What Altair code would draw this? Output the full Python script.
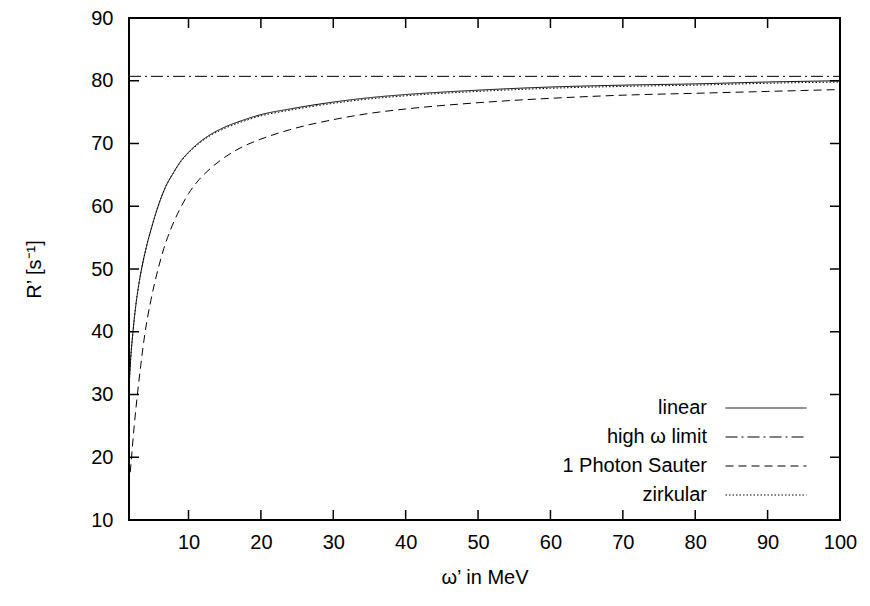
import altair as alt
import pandas as pd

# ---- data ----
X_MIN, X_MAX = 1.78, 100
Y_MIN, Y_MAX = 10, 90
x_ticks = [10, 20, 30, 40, 50, 60, 70, 80, 90, 100]
y_ticks = [10, 20, 30, 40, 50, 60, 70, 80, 90]

series_names = ["linear", "high ω limit", "1 Photon Sauter", "zirkular"]

lin_x = [1.78, 2.0, 2.33, 2.7, 3.1, 3.6, 4.2, 4.9, 5.8, 6.8, 7.9, 9.0, 10, 11.3, 13, 15, 17.5, 20, 24, 30, 35, 40, 50, 60, 70, 80, 90, 100]
lin_y = [31, 35.5, 40, 44, 47.3, 50.5, 53.6, 56.6, 60.0, 63.0, 65.3, 67.3, 68.6, 70.0, 71.4, 72.6, 73.7, 74.6, 75.5, 76.6, 77.3, 77.8, 78.5, 79.0, 79.3, 79.5, 79.8, 80.0]

lim_x = [1.78, 100]
lim_y = [80.7, 80.7]

sau_x = [1.95, 2.2, 2.5, 2.94, 3.4, 3.95, 4.8, 5.8, 6.6, 7.5, 8.7, 10, 11.5, 13, 15, 17.5, 20, 24, 30, 35, 40, 50, 60, 70, 80, 90, 100]
sau_y = [17.6, 21.0, 25.0, 30.0, 34.6, 39.5, 45.0, 50.0, 53.3, 56.2, 59.3, 62.0, 64.3, 66.0, 67.8, 69.5, 70.7, 72.2, 73.8, 74.8, 75.5, 76.5, 77.2, 77.7, 78.0, 78.3, 78.6]

zir_x = lin_x
zir_y = [31, 35.5, 40, 44, 47.3, 50.5, 53.6, 56.6, 60.0, 63.0, 65.3, 67.2, 68.5, 69.85, 71.25, 72.4, 73.5, 74.4, 75.3, 76.4, 77.1, 77.6, 78.3, 78.8, 79.1, 79.3, 79.6, 79.8]

rows = []
for name, xs_, ys_ in [
    ("linear", lin_x, lin_y),
    ("high ω limit", lim_x, lim_y),
    ("1 Photon Sauter", sau_x, sau_y),
    ("zirkular", zir_x, zir_y),
]:
    for xv, yv in zip(xs_, ys_):
        rows.append({"series": name, "x": xv, "y": yv})
df = pd.DataFrame(rows)
df_xt = pd.DataFrame({"x": x_ticks})
df_yt = pd.DataFrame({"y": y_ticks})

# ---- styling ----
W, H = 711, 502
FONT = "Liberation Sans"
TICK = 10
dash_range = [[1, 0], [12, 4, 2, 4], [8, 5], [1.5, 2]]

xscale = alt.Scale(domain=[X_MIN, X_MAX], nice=False, zero=False)
yscale = alt.Scale(domain=[Y_MIN, Y_MAX], nice=False, zero=False)

xaxis = alt.Axis(values=x_ticks, title="ω’ in MeV", grid=False, domain=False,
                 tickSize=0, labelPadding=12, titlePadding=15, labelFlush=False)
yaxis = alt.Axis(values=y_ticks, title="R’ [s⁻¹]", grid=False, domain=False,
                 tickSize=0, labelPadding=16, titlePadding=46, labelFlush=False)

X = alt.X("x:Q", scale=xscale, axis=xaxis)
Y = alt.Y("y:Q", scale=yscale, axis=yaxis)

lines = alt.Chart(df).mark_line(color="black", strokeWidth=1, clip=True,
                                interpolate="monotone").encode(
    x=X,
    y=Y,
    strokeDash=alt.StrokeDash(
        "series:N",
        scale=alt.Scale(domain=series_names, range=dash_range),
        sort=series_names,
        legend=alt.Legend(
            orient="none", legendX=626, legendY=379, title=None, padding=0,
            symbolType="M-4,0H4", symbolSize=410, symbolStrokeColor="black",
            symbolFillColor="transparent",
            symbolStrokeWidth=1, labelAlign="right", labelOffset={"expr": "-70"},
            labelFontSize=20, labelFont=FONT, labelColor="black", labelLimit=400,
            rowPadding=8, labelBaseline="middle",
        ),
    ),
)

tick_bottom = alt.Chart(df_xt).mark_rule(color="black", strokeWidth=1.5).encode(
    x=X, y=alt.value(H), y2=alt.value(H - TICK))
tick_top = alt.Chart(df_xt).mark_rule(color="black", strokeWidth=1.5).encode(
    x=X, y=alt.value(0), y2=alt.value(TICK))
tick_left = alt.Chart(df_yt).mark_rule(color="black", strokeWidth=1.5).encode(
    y=Y, x=alt.value(0), x2=alt.value(TICK))
tick_right = alt.Chart(df_yt).mark_rule(color="black", strokeWidth=1.5).encode(
    y=Y, x=alt.value(W), x2=alt.value(W - TICK))

chart = alt.layer(lines, tick_bottom, tick_top, tick_left, tick_right).properties(
    width=W, height=H,
    autosize=alt.AutoSizeParams(type="none"),
    padding={"left": 129, "top": 18, "right": 30, "bottom": 86},
).configure(
    background="white"
).configure_view(
    stroke="black", strokeWidth=2, fill="white"
).configure_axis(
    labelFont=FONT, labelFontSize=20, labelColor="black",
    titleFont=FONT, titleFontSize=20, titleColor="black", titleFontWeight="normal",
)

chart.save("out.html", embed_options={"renderer": "svg", "actions": False})
